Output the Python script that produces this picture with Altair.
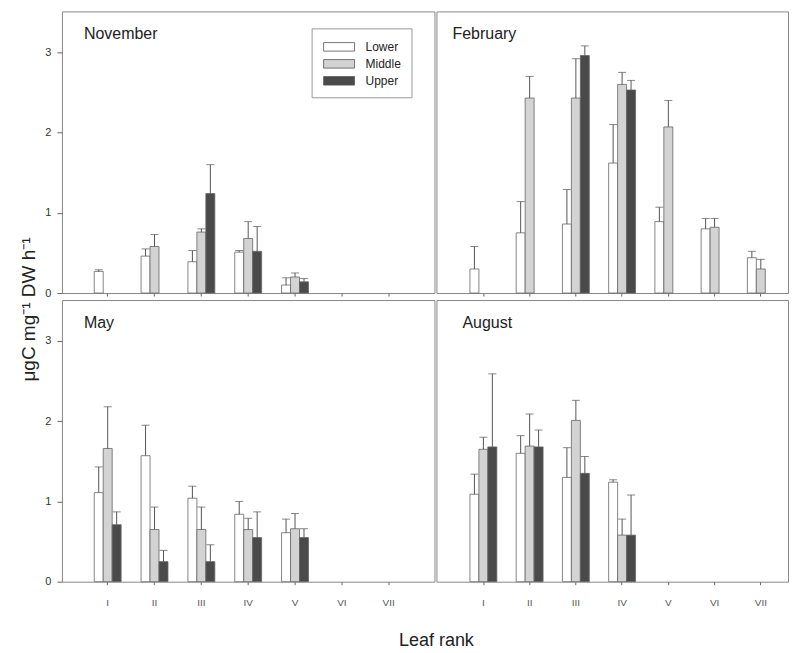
import altair as alt
import pandas as pd

ranks = ["I", "II", "III", "IV", "V", "VI", "VII"]
groups = ["Lower", "Middle", "Upper"]
months = ["November", "February", "May", "August"]

# mean values and upper error lengths, by leaf rank I..VII (None = no bar)
nov_lower = [0.27, 0.46, 0.39, 0.51, 0.10, None, None]
nov_lower_se = [0.02, 0.09, 0.14, 0.02, 0.09, None, None]
nov_middle = [None, 0.58, 0.76, 0.68, 0.20, None, None]
nov_middle_se = [None, 0.15, 0.04, 0.21, 0.05, None, None]
nov_upper = [None, None, 1.24, 0.52, 0.14, None, None]
nov_upper_se = [None, None, 0.36, 0.31, 0.04, None, None]

feb_lower = [0.30, 0.75, 0.86, 1.62, 0.89, 0.80, 0.44]
feb_lower_se = [0.28, 0.39, 0.43, 0.48, 0.18, 0.13, 0.08]
feb_middle = [None, 2.43, 2.43, 2.60, 2.07, 0.82, 0.30]
feb_middle_se = [None, 0.27, 0.49, 0.15, 0.33, 0.11, 0.12]
feb_upper = [None, None, 2.96, 2.53, None, None, None]
feb_upper_se = [None, None, 0.12, 0.12, None, None, None]

may_lower = [1.11, 1.57, 1.04, 0.84, 0.61, None, None]
may_lower_se = [0.32, 0.38, 0.15, 0.16, 0.17, None, None]
may_middle = [1.66, 0.65, 0.65, 0.65, 0.66, None, None]
may_middle_se = [0.52, 0.28, 0.28, 0.14, 0.19, None, None]
may_upper = [0.71, 0.25, 0.25, 0.55, 0.55, None, None]
may_upper_se = [0.16, 0.14, 0.21, 0.32, 0.11, None, None]

aug_lower = [1.09, 1.60, 1.30, 1.24, None, None, None]
aug_lower_se = [0.25, 0.22, 0.37, 0.03, None, None, None]
aug_middle = [1.65, 1.69, 2.01, 0.58, None, None, None]
aug_middle_se = [0.15, 0.40, 0.25, 0.20, None, None, None]
aug_upper = [1.68, 1.68, 1.35, 0.58, None, None, None]
aug_upper_se = [0.91, 0.21, 0.21, 0.50, None, None, None]

series = {
    "November": [(nov_lower, nov_lower_se), (nov_middle, nov_middle_se), (nov_upper, nov_upper_se)],
    "February": [(feb_lower, feb_lower_se), (feb_middle, feb_middle_se), (feb_upper, feb_upper_se)],
    "May": [(may_lower, may_lower_se), (may_middle, may_middle_se), (may_upper, may_upper_se)],
    "August": [(aug_lower, aug_lower_se), (aug_middle, aug_middle_se), (aug_upper, aug_upper_se)],
}

rows = []
for m in months:
    for g, (vals, ses) in zip(groups, series[m]):
        for r, v, s in zip(ranks, vals, ses):
            if v is not None:
                rows.append({"month": m, "rank": r, "group": g, "mean": v, "top": v + s})
df = pd.DataFrame(rows)

FONT = "Liberation Sans"
LEFT_W, RIGHT_W, PANEL_H = 373, 352, 282


def panel(month, left, bottom, label_x, show_legend):
    if left:
        xs = alt.Scale(domain=ranks, paddingInner=0.4255, paddingOuter=0.69)
    else:
        xs = alt.Scale(domain=ranks, paddingInner=0.417, paddingOuter=0.51, align=0.71)
    xaxis = alt.Axis(title=None, labelAngle=0, labelFontSize=10, labelColor="#555",
                     labelPadding=13, tickSize=3, domain=False, labels=bottom)
    x_enc = alt.X("rank:N", scale=xs, axis=xaxis)
    xo_enc = alt.XOffset("group:N", scale=alt.Scale(domain=groups, paddingInner=0, paddingOuter=0))
    y_scale = alt.Scale(domain=[0, 3.51], nice=False)
    if left:
        y_axis = alt.Axis(title=None, values=[0, 1, 2, 3], grid=False, labelFontSize=11,
                          labelColor="#333", tickSize=5, labelPadding=6, domain=False)
    else:
        y_axis = None
    if show_legend:
        legend = alt.Legend(title=None, orient="none", legendX=250, legendY=17,
                            strokeColor="#999", padding=10, labelFontSize=12,
                            labelFont=FONT, labelColor="#222", rowPadding=2,
                            symbolType="M-2,-0.55H2V0.55H-2Z", symbolSize=240,
                            symbolOffset=9, labelOffset=18,
                            symbolStrokeColor="#555", symbolStrokeWidth=0.8)
    else:
        legend = None
    base = alt.Chart(df).transform_filter(alt.datum.month == month)
    bars = base.mark_bar(stroke="#666", strokeWidth=0.8).encode(
        x=x_enc, xOffset=xo_enc,
        y=alt.Y("mean:Q", scale=y_scale, axis=y_axis),
        fill=alt.Fill("group:N",
                      scale=alt.Scale(domain=groups, range=["#ffffff", "#d3d3d3", "#4a4a4a"]),
                      legend=legend),
    )
    rules = base.mark_rule(color="#555", strokeWidth=1).encode(
        x=x_enc, xOffset=xo_enc,
        y=alt.Y("mean:Q", scale=y_scale, axis=y_axis), y2="top:Q",
    )
    caps = base.mark_tick(color="#555", size=8, thickness=1).encode(
        x=x_enc, xOffset=xo_enc,
        y=alt.Y("top:Q", scale=y_scale, axis=y_axis),
    )
    label = base.transform_filter(
        "datum.rank == 'I' && datum.group == 'Lower'"
    ).mark_text(align="left", baseline="middle", fontSize=16, font=FONT, color="#222").encode(
        x=alt.value(label_x), y=alt.value(23), text="month:N",
    )
    return alt.layer(bars, rules, caps, label).properties(
        width=LEFT_W if left else RIGHT_W, height=PANEL_H
    )


top = alt.hconcat(
    panel("November", True, False, 22, True),
    panel("February", False, False, 16, False),
    spacing=0,
)
bottom = alt.hconcat(
    panel("May", True, True, 22, False),
    panel("August", False, True, 26, False),
    spacing=0,
)

grid = alt.vconcat(top, bottom, spacing=0).resolve_scale(x="independent").properties(
    title=alt.TitleParams("μgC mg⁻¹ DW h⁻¹", orient="left", anchor="middle", fontSize=19,
                          font=FONT, fontWeight="normal", color="#222", offset=5)
)

chart = alt.vconcat(grid).properties(
    title=alt.TitleParams("Leaf rank", orient="bottom", anchor="middle", fontSize=18,
                          font=FONT, fontWeight="normal", color="#222", offset=24, dx=32),
    padding={"left": 12, "top": 2, "right": 0, "bottom": 0},
).configure_view(stroke="#888", strokeWidth=1).configure_axis(
    labelFont=FONT, tickColor="#666"
)

chart.save("out.html", embed_options={"renderer": "svg", "actions": False})
